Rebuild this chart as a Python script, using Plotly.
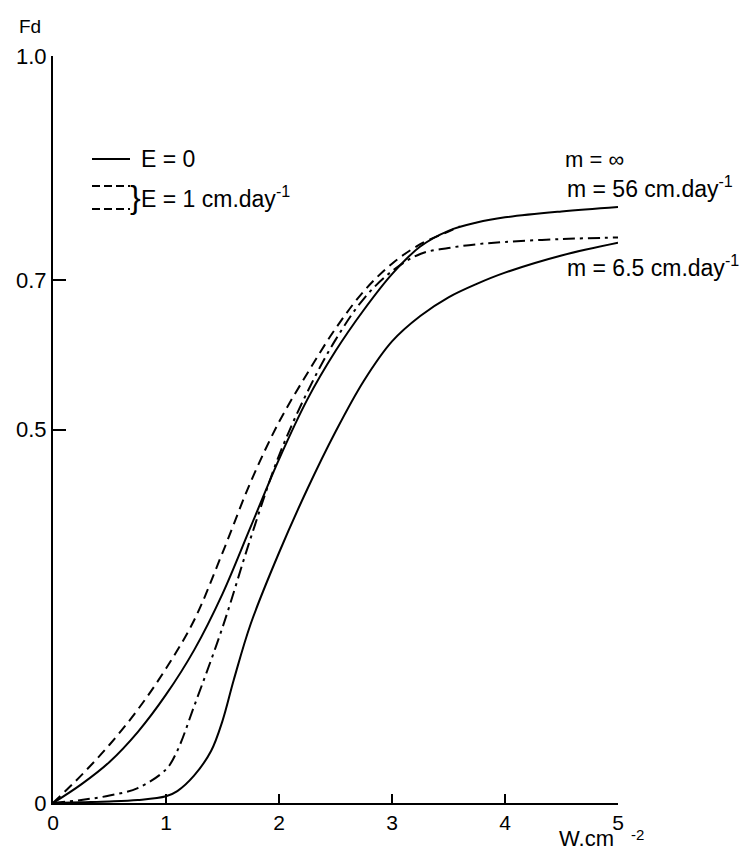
import plotly.graph_objects as go

# ---- data ----
x_dash = [0, 0.25, 0.5, 0.75, 1.0, 1.25, 1.5, 1.75, 2.0, 2.25, 2.5, 2.75, 3.0, 3.25, 3.5, 3.6]
y_dash = [0, 0.037, 0.078, 0.125, 0.18, 0.245, 0.335, 0.43, 0.51, 0.575, 0.635, 0.685, 0.722, 0.748, 0.765, 0.772]

x_grid = [0, 0.25, 0.5, 0.75, 1.0, 1.25, 1.5, 1.75, 2.0, 2.25, 2.5, 2.75, 3.0, 3.25, 3.5, 3.75, 4.0, 4.5, 5.0]
y_solid_hi = [0, 0.025, 0.055, 0.095, 0.145, 0.205, 0.28, 0.37, 0.46, 0.54, 0.605, 0.66, 0.708, 0.745, 0.766, 0.777, 0.784, 0.792, 0.798]

x_dashdot = [0, 0.25, 0.5, 0.75, 1.0, 1.1, 1.25, 1.5, 1.75, 2.0, 2.25, 2.5, 2.75, 3.0, 3.25, 3.5, 3.75, 4.0, 4.5, 5.0]
y_dashdot = [0, 0.004, 0.01, 0.02, 0.045, 0.07, 0.13, 0.235, 0.355, 0.465, 0.55, 0.62, 0.675, 0.712, 0.735, 0.743, 0.748, 0.751, 0.755, 0.757]

x_solid_lo = [0, 0.25, 0.5, 0.75, 1.0, 1.1, 1.25, 1.4, 1.5, 1.6, 1.75, 2.0, 2.25, 2.5, 2.75, 3.0, 3.25, 3.5, 3.75, 4.0, 4.5, 5.0]
y_solid_lo = [0, 0.001, 0.002, 0.004, 0.009, 0.016, 0.037, 0.07, 0.11, 0.165, 0.24, 0.335, 0.42, 0.497, 0.565, 0.618, 0.652, 0.677, 0.695, 0.71, 0.733, 0.75]

x_ticks = [0, 1, 2, 3, 4, 5]
y_ticks = [0, 0.5, 0.7, 1.0]
y_ticktext = ["0", "0.5", "0.7", "1.0"]

W, H = 755, 854
L, R, T, B = 53, 137, 56, 51
FONT = "Liberation Sans"

fig = go.Figure()
line_w = 2
fig.add_trace(go.Scatter(x=x_dash, y=y_dash, mode="lines",
                         line=dict(color="black", width=line_w, dash="10px,6px", shape="spline")))
fig.add_trace(go.Scatter(x=x_grid, y=y_solid_hi, mode="lines",
                         line=dict(color="black", width=line_w, shape="spline")))
fig.add_trace(go.Scatter(x=x_dashdot, y=y_dashdot, mode="lines",
                         line=dict(color="black", width=line_w, dash="12px,5px,3px,5px", shape="spline")))
fig.add_trace(go.Scatter(x=x_solid_lo, y=y_solid_lo, mode="lines",
                         line=dict(color="black", width=line_w, shape="spline")))

pw, ph = W - L - R, H - T - B


def px(xp):
    return (xp - L) / pw


def py(yp):
    return (H - B - yp) / ph


annots = [
    dict(text="Fd", x=px(17), y=py(27), size=19, ya="middle"),
    dict(text="W.cm", x=px(557), y=py(853), size=22, ya="bottom"),
    dict(text="-2", x=px(629), y=py(834), size=15, ya="middle"),
    dict(text="E = 0", x=px(139), y=py(159), size=23, ya="middle"),
    dict(text="}", x=px(128), y=py(197), size=32, ya="middle"),
    dict(text="E = 1 cm.day<sup>-1</sup>", x=px(139), y=py(197), size=23, ya="middle"),
    dict(text="m = ∞", x=px(563), y=py(159), size=22, ya="middle"),
    dict(text="m = 56 cm.day<sup>-1</sup>", x=px(565), y=py(187), size=23, ya="middle"),
    dict(text="m = 6.5 cm.day<sup>-1</sup>", x=px(565), y=py(266), size=23, ya="middle"),
]
for a in annots:
    fig.add_annotation(text=a["text"], x=a["x"], y=a["y"], xref="paper", yref="paper",
                       xanchor="left", yanchor=a["ya"], showarrow=False,
                       font=dict(family=FONT, size=a["size"], color="black"))

# legend keys
shapes = [
    (92, 159, 130, 159, "solid"),
    (92, 186, 130, 186, "8px,4px"),
    (92, 209, 130, 209, "8px,4px"),
]
for x0, y0, x1, y1, d in shapes:
    fig.add_shape(type="line", xref="paper", yref="paper", x0=px(x0), y0=py(y0), x1=px(x1), y1=py(y1),
                  line=dict(color="black", width=2, dash=d))

fig.update_layout(
    width=W, height=H, margin=dict(l=L, r=R, t=T, b=B),
    paper_bgcolor="white", plot_bgcolor="white", showlegend=False,
    font=dict(family=FONT, size=22, color="black"),
)
fig.update_xaxes(range=[0, 5], tickvals=x_ticks, ticks="inside", ticklen=9, tickwidth=2, tickcolor="black",
                 showline=True, linecolor="black", linewidth=2, showgrid=False, zeroline=False,
                 tickfont=dict(family=FONT, size=21))
fig.update_yaxes(range=[0, 1.0], tickvals=y_ticks, ticktext=y_ticktext, ticks="inside", ticklen=13,
                 tickwidth=2, tickcolor="black", showline=True, linecolor="black", linewidth=2,
                 showgrid=False, zeroline=False, tickfont=dict(family=FONT, size=22))

fig.write_html("out.html")
